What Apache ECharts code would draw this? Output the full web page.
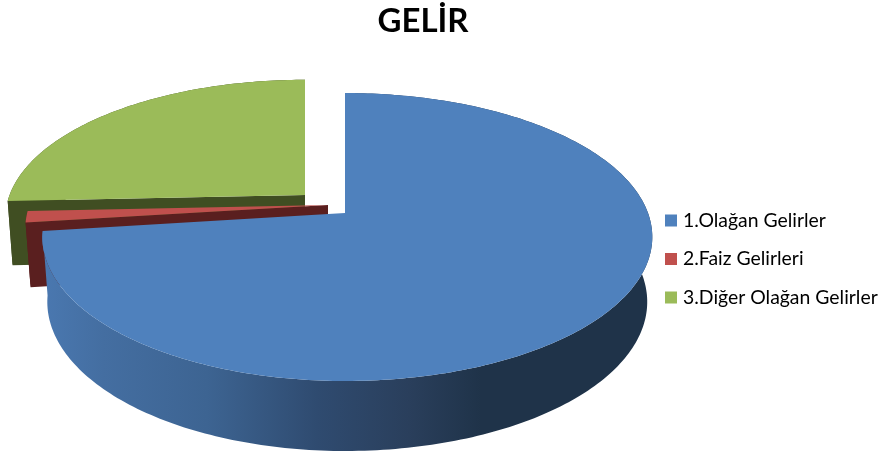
<!DOCTYPE html>
<html>
<head>
<meta charset="utf-8">
<style>html,body{margin:0;padding:0;background:#fff}#main{width:881px;height:455px}</style>
<script src="https://cdn.jsdelivr.net/npm/echarts@6/dist/echarts.min.js"></script>
</head>
<body>
<div id="main"></div>
<script>
var categories = ['1.Olağan Gelirler', '2.Faiz Gelirleri', '3.Diğer Olağan Gelirler'];
var values = [73, 1.3, 25.7];

var colors = ['#4f81bd', '#c0504d', '#9bbb59'];
var faceColors = ['#2d4665', '#5a1f1f', '#404e22'];
// exploded tip of each slice, in pixels, and how much further back slices shrink
var tips = [[345, 213], [328, 205], [305, 195]];
var shrink = [[1, 1], [0.985, 0.98], [0.975, 0.96]];

var total = values.reduce(function (a, b) { return a + b }, 0);
var topDisc = { rx: 303, ry: 140, persp: 1 / 6, dy: 0 };
var baseDisc = { rx: 298, ry: 145, persp: 1 / 6, dy: 64 };

// angle in degrees clockwise from 12 o'clock, tilted disc with a bit of perspective
function project(index, disc, deg) {
    var t = deg * Math.PI / 180;
    var u = Math.sin(t), v = -Math.cos(t);
    var s = 1 / (1 - disc.persp * v);
    // the big slice is a little narrower on its left side
    var side = index === 0 && u < 0 ? 0.985 : 1;
    return [
        tips[index][0] + disc.rx * shrink[index][0] * side * u * s,
        tips[index][1] + disc.dy + disc.ry * shrink[index][1] * v * s
    ];
}

function arc(index, disc, from, to) {
    var pts = [];
    var n = Math.max(2, Math.ceil(Math.abs(to - from)));
    for (var i = 0; i <= n; i++) {
        pts.push(project(index, disc, from + (to - from) * i / n));
    }
    return pts;
}

function sliceItem(index, value) {
    var start = 0;
    for (var i = 0; i < index; i++) start += values[i];
    var from = start / total * 360;
    var to = (start + value) / total * 360;
    var tip = tips[index];
    var children = [];

    // outer wall
    var wallFill = faceColors[index];
    if (index === 0) {
        wallFill = new echarts.graphic.LinearGradient(0, 0, 1, 0, [
            { offset: 0, color: '#4a78b0' },
            { offset: 0.1, color: '#446ea1' },
            { offset: 0.27, color: '#3d6492' },
            { offset: 0.45, color: '#2f4b70' },
            { offset: 0.6, color: '#2a3f5c' },
            { offset: 0.72, color: '#1f3349' },
            { offset: 1, color: '#1f3349' }
        ]);
    }
    var wall = arc(index, topDisc, from, to).concat(arc(index, baseDisc, from, to).reverse());
    children.push({ type: 'polygon', shape: { points: wall }, style: { fill: wallFill } });

    // cut face at the front edge of the slice
    if (index > 0) {
        var face = [tip, project(index, topDisc, from), project(index, baseDisc, from), [tip[0], tip[1] + baseDisc.dy]];
        children.push({ type: 'polygon', shape: { points: face }, style: { fill: faceColors[index] } });
    }

    // top
    var top = [tip].concat(arc(index, topDisc, from, to));
    children.push({ type: 'polygon', shape: { points: top }, style: { fill: colors[index] } });

    return { type: 'group', children: children };
}

var mychart = echarts.init(document.getElementById('main'));
mychart.setOption({
    animation: false,
    title: {
        text: 'GELİR',
        left: 423,
        top: 5,
        textAlign: 'center',
        textStyle: { fontFamily: 'Lato', fontWeight: 'bold', fontSize: 33, color: '#000' },
        padding: 0
    },
    legend: {
        orient: 'vertical',
        left: 665,
        top: 211,
        padding: 0,
        icon: 'rect',
        itemWidth: 12,
        itemHeight: 12,
        itemGap: 19.5,
        data: categories,
        textStyle: { fontFamily: 'Lato', fontSize: 19.4, color: '#000', padding: [0, 0, 0, 1] }
    },
    series: categories.map(function (name, i) {
        return {
            name: name,
            type: 'custom',
            coordinateSystem: 'none',
            itemStyle: { color: colors[i] },
            silent: true,
            z: 5 - i,
            data: [values[i]],
            renderItem: function (params, api) {
                return sliceItem(i, api.value(0));
            }
        };
    })
});
</script>
</body>
</html>
